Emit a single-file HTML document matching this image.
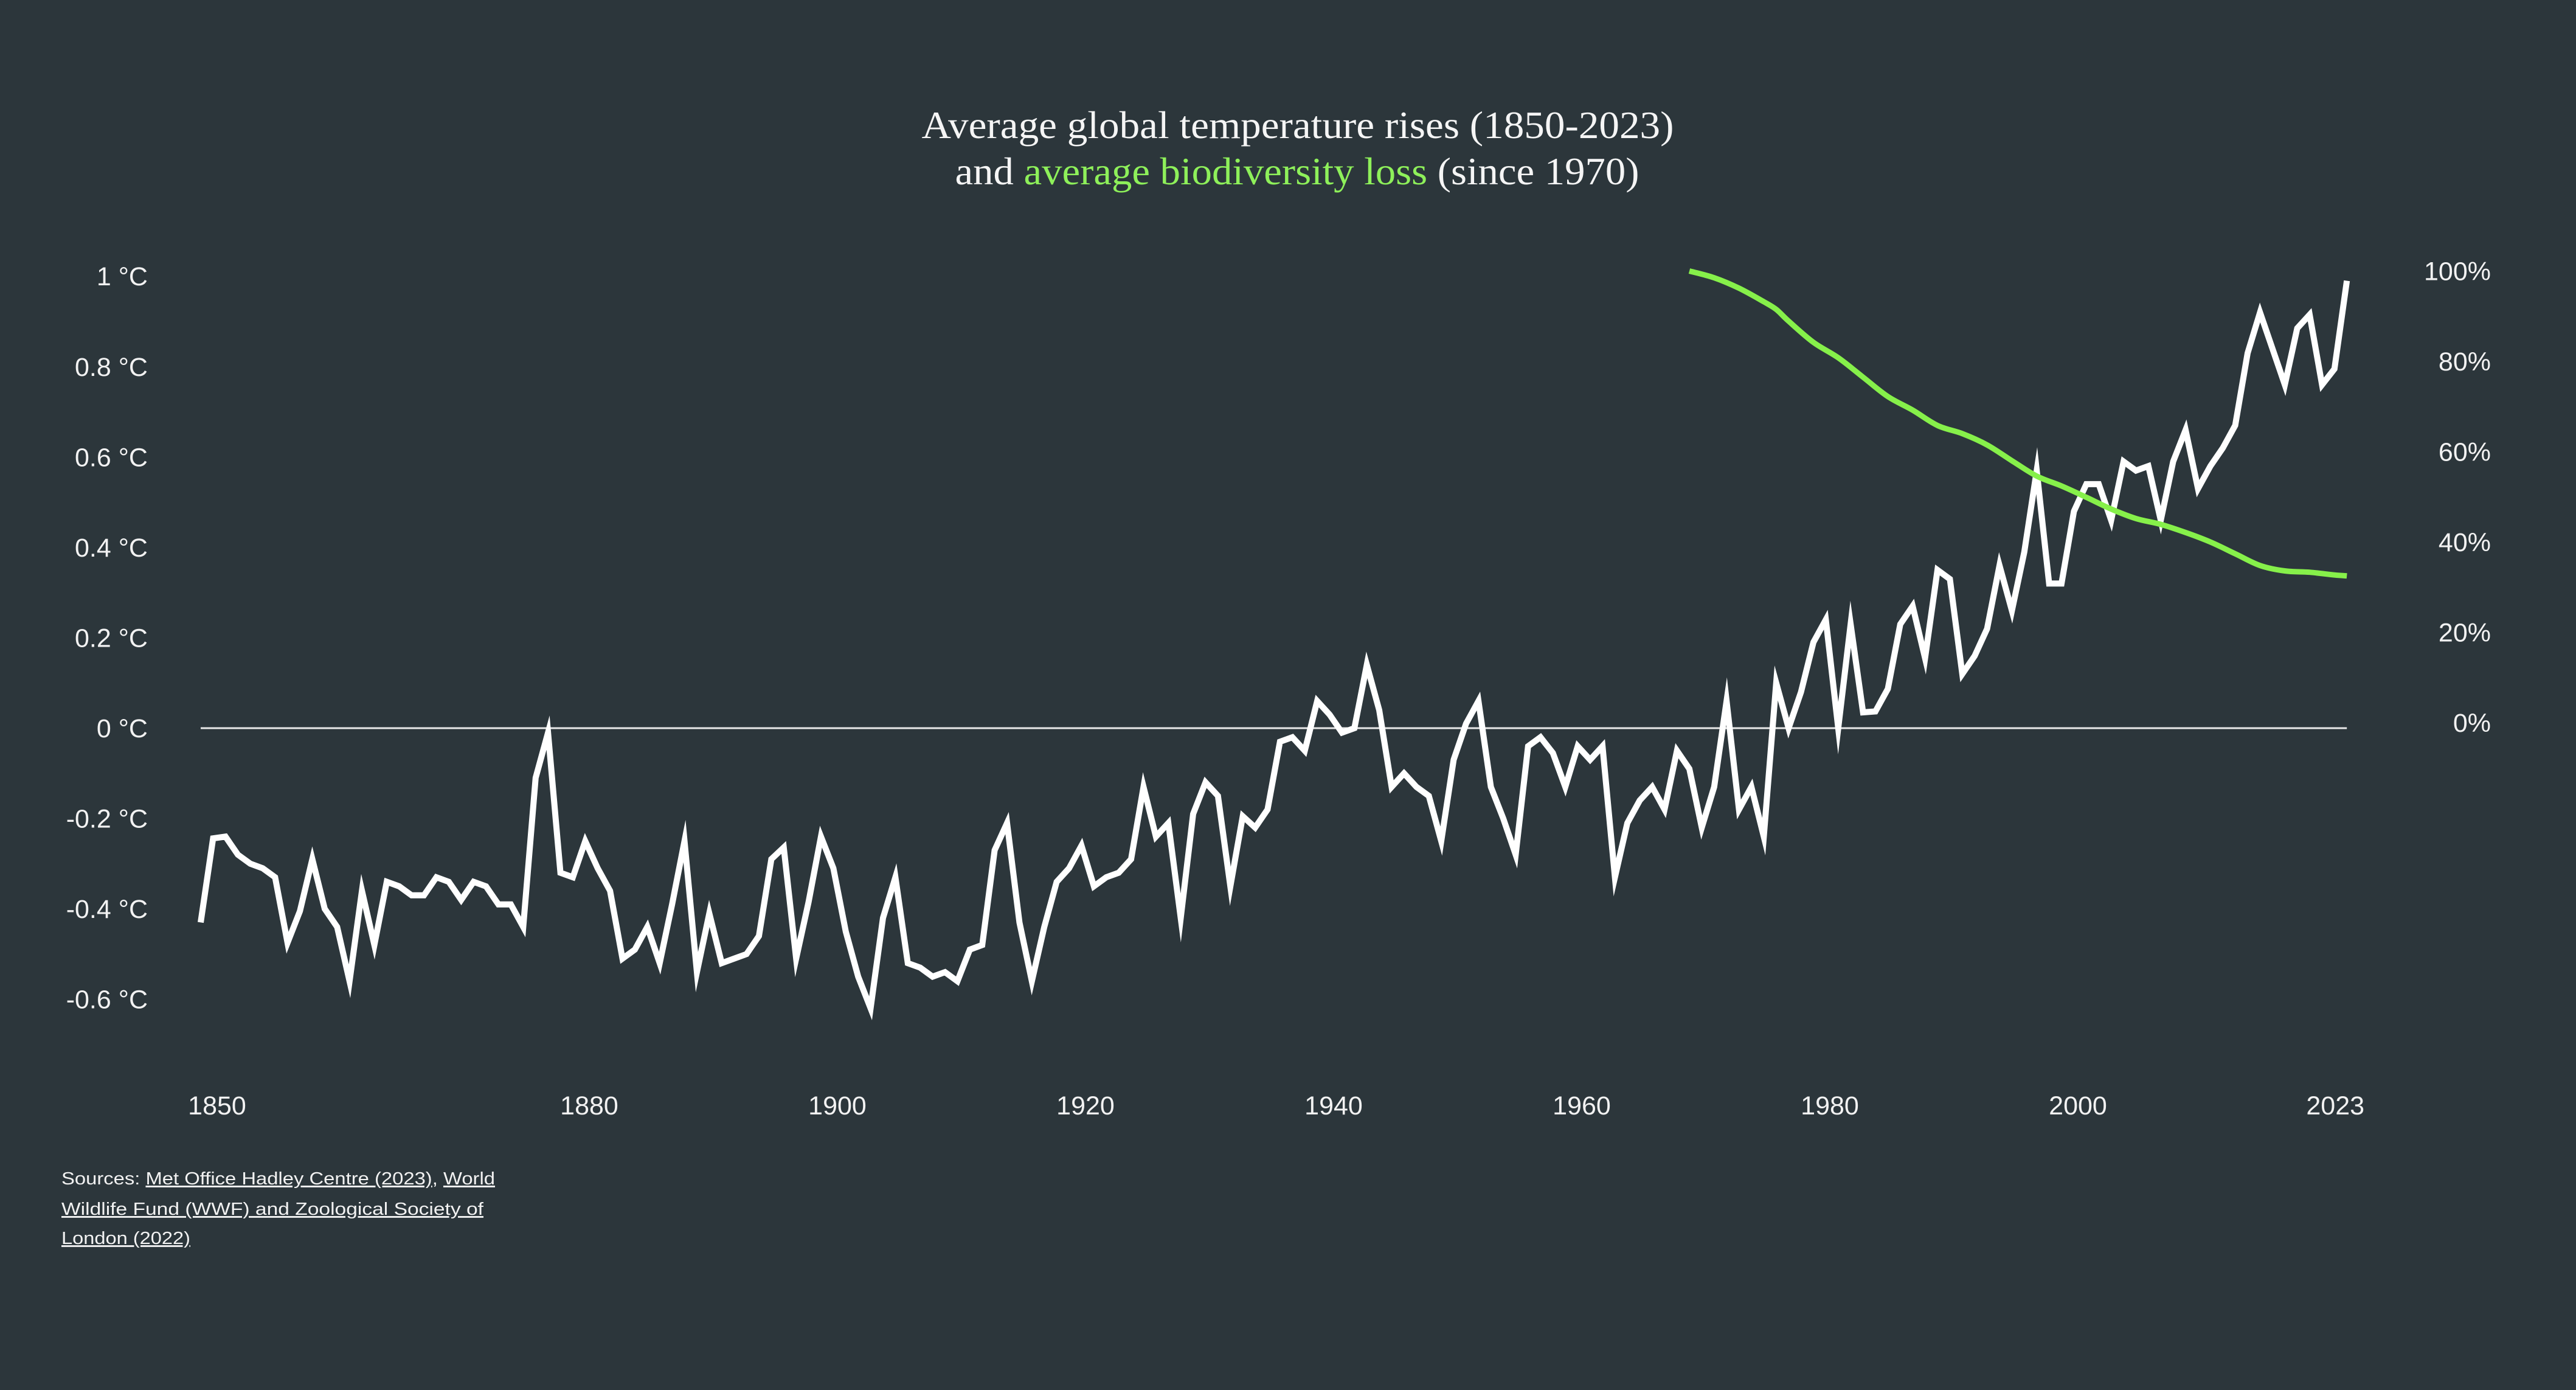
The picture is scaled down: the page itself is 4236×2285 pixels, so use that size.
<!DOCTYPE html>
<html><head><meta charset="utf-8">
<style>
html,body{margin:0;padding:0;background:#2c363b;}
svg{display:block;}
.ax{font-family:"Liberation Sans",sans-serif;fill:#f2f2f2;font-size:43px;}
</style></head>
<body>
<svg id="chart" width="4236" height="2285" viewBox="0 0 4236 2285" xmlns="http://www.w3.org/2000/svg">
<rect width="4236" height="2285" fill="#2c363b"/>
<g font-family="'Liberation Serif',serif" font-size="64" fill="#f5f5f5" text-anchor="middle">
<text x="2134" y="227" textLength="1237" lengthAdjust="spacingAndGlyphs">Average global temperature rises (1850-2023)</text>
<text x="2133" y="303" textLength="1125" lengthAdjust="spacingAndGlyphs">and <tspan fill="#8ef05a">average biodiversity loss</tspan> (since 1970)</text>
</g>
<g id="grid"></g>
<g id="left-axis"></g>
<g id="right-axis"></g>
<g id="x-axis"></g>
<g id="series"></g>
<g font-family="'Liberation Sans',sans-serif" font-size="29" fill="#f2f2f2">
<text x="101" y="1947" textLength="713" lengthAdjust="spacingAndGlyphs">Sources: <tspan text-decoration="underline">Met Office Hadley Centre (2023)</tspan>, <tspan text-decoration="underline">World</tspan></text>
<text x="101" y="1997" textLength="694" lengthAdjust="spacingAndGlyphs" text-decoration="underline">Wildlife Fund (WWF) and Zoological Society of</text>
<text x="101" y="2045" textLength="212" lengthAdjust="spacingAndGlyphs" text-decoration="underline">London (2022)</text>
</g>
</svg>
<script>
const tempStartYear = 1850;
const tempValues = [
-0.43,-0.244,-0.24,-0.28,-0.30,-0.31,-0.33,-0.475,-0.405,-0.29,
-0.40,-0.44,-0.56,-0.36,-0.48,-0.34,-0.35,-0.37,-0.37,-0.33,
-0.34,-0.38,-0.34,-0.35,-0.39,-0.39,-0.44,-0.11,-0.01,-0.32,
-0.33,-0.25,-0.31,-0.36,-0.51,-0.49,-0.44,-0.52,-0.39,-0.25,
-0.54,-0.41,-0.52,-0.51,-0.50,-0.46,-0.29,-0.264,-0.51,-0.385,
-0.24,-0.31,-0.45,-0.55,-0.62,-0.42,-0.33,-0.52,-0.53,-0.55,
-0.54,-0.56,-0.49,-0.48,-0.27,-0.21,-0.43,-0.56,-0.44,-0.34,
-0.31,-0.26,-0.35,-0.33,-0.32,-0.29,-0.13,-0.24,-0.21,-0.42,
-0.19,-0.12,-0.15,-0.35,-0.195,-0.22,-0.18,-0.03,-0.02,-0.05,
0.06,0.03,-0.01,0.00,0.14,0.04,-0.13,-0.10,-0.13,-0.15,
-0.25,-0.07,0.01,0.06,-0.13,-0.20,-0.28,-0.04,-0.02,-0.055,
-0.13,-0.04,-0.07,-0.04,-0.33,-0.21,-0.16,-0.13,-0.18,-0.05,
-0.09,-0.22,-0.13,0.06,-0.18,-0.13,-0.24,0.10,0.00,0.08,
0.19,0.24,0.00,0.23,0.035,0.037,0.087,0.23,0.27,0.155,
0.35,0.33,0.12,0.16,0.22,0.36,0.26,0.39,0.57,0.32,
0.32,0.48,0.54,0.54,0.46,0.59,0.57,0.58,0.46,0.59,
0.66,0.53,0.58,0.62,0.67,0.83,0.92,0.84,0.76,0.885,
0.915,0.76,0.795,0.99
];
const bioYears = [1970,1972,1974,1976,1977,1978,1980,1982,1984,1986,1988,1990,1992,1994,1996,1998,2000,2002,2004,2006,2008,2010,2012,2014,2016,2018,2020,2022,2023];
const bioValues = [100,98.5,96.2,93.2,91.5,88.9,84.2,80.8,76.5,72.2,69.2,65.8,64,61.5,58,54.6,52.4,49.9,47.3,45.2,43.9,42.1,40,37.4,34.8,33.6,33.3,32.7,32.5];
const leftTicks = [1,0.8,0.6,0.4,0.2,0,-0.2,-0.4,-0.6];
const leftTickLabels = ["1 °C","0.8 °C","0.6 °C","0.4 °C","0.2 °C","0 °C","-0.2 °C","-0.4 °C","-0.6 °C"];
const rightTicks = [100,80,60,40,20,0];
const rightTickLabels = ["100%","80%","60%","40%","20%","0%"];
const xTicks = [1850,1880,1900,1920,1940,1960,1980,2000,2023];

const NS = "http://www.w3.org/2000/svg";
const x = yr => 330 + (yr - 1850) * 20.4;
const yT = v => 1197 - v * 742.8;
const yP = p => 1188 - p * 7.425;
function mk(tag, attrs, parent){const e=document.createElementNS(NS,tag);for(const k in attrs)e.setAttribute(k,attrs[k]);parent.appendChild(e);return e;}

const grid = document.getElementById('grid');
const zl = mk('line',{x1:x(1850),x2:x(2023),y1:yT(0),y2:yT(0),stroke:'#e8e8e8','stroke-width':3},grid);



const la = document.getElementById('left-axis');
leftTicks.forEach((v,i)=>{
  const t = mk('text',{x:243,y:yT(v)+15,'text-anchor':'end',class:'ax'},la);
  t.textContent = leftTickLabels[i];
  
  
});
const ra = document.getElementById('right-axis');
rightTicks.forEach((v,i)=>{
  const t = mk('text',{x:4096,y:yP(v)+15,'text-anchor':'end',class:'ax'},ra);
  t.textContent = rightTickLabels[i];
  
  
});
const xa = document.getElementById('x-axis');
xTicks.forEach(yr=>{
  const t = mk('text',{x:x(yr)+(yr===2023?-19:27),y:1832,'text-anchor':'middle',class:'ax'},xa);
  t.textContent = String(yr);
  
  
});

const s = document.getElementById('series');
const tp = tempValues.map((v,i)=>x(tempStartYear+i).toFixed(1)+','+yT(v).toFixed(1)).join(' ');
const tl = mk('polyline',{points:tp,fill:'none',stroke:'#ffffff','stroke-width':10,'stroke-linejoin':'miter','stroke-miterlimit':10},s);


const pts = bioYears.map((yr,i)=>[x(yr),yP(bioValues[i])]);
let d = 'M'+pts[0][0]+','+pts[0][1];
for(let i=0;i<pts.length-1;i++){
  const p0=pts[Math.max(0,i-1)],p1=pts[i],p2=pts[i+1],p3=pts[Math.min(pts.length-1,i+2)];
  const c1=[p1[0]+(p2[0]-p0[0])/6,p1[1]+(p2[1]-p0[1])/6];
  const c2=[p2[0]-(p3[0]-p1[0])/6,p2[1]-(p3[1]-p1[1])/6];
  d+=' C'+c1[0].toFixed(1)+','+c1[1].toFixed(1)+' '+c2[0].toFixed(1)+','+c2[1].toFixed(1)+' '+p2[0].toFixed(1)+','+p2[1].toFixed(1);
}
const bl = mk('path',{d:d,fill:'none',stroke:'#86f04a','stroke-width':9},s);


</script>
</body></html>
